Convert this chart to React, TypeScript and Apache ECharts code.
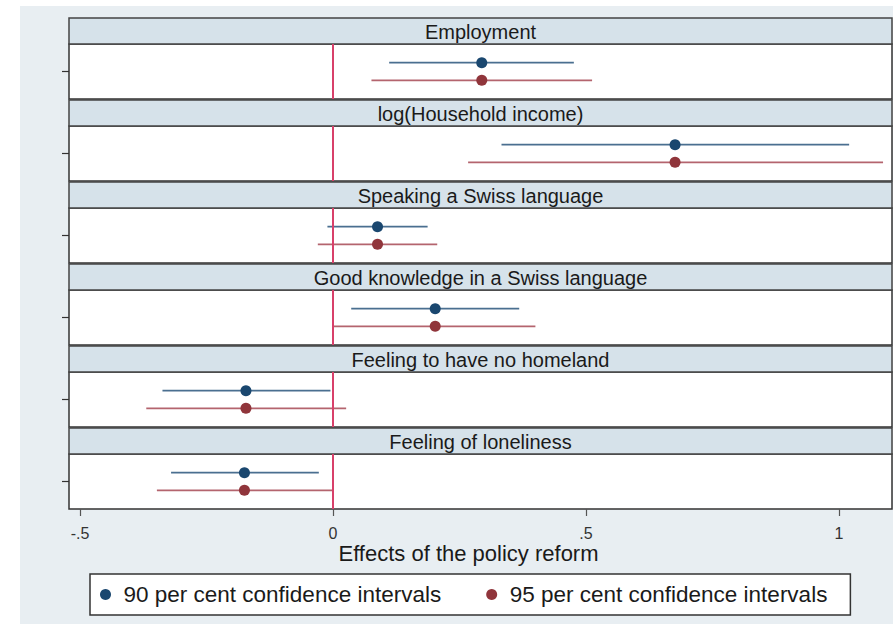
import React, { useEffect, useRef } from "react";
import * as echarts from "echarts";

const outcomes = [
  "Employment",
  "log(Household income)",
  "Speaking a Swiss language",
  "Good knowledge in a Swiss language",
  "Feeling to have no homeland",
  "Feeling of loneliness",
];
const estimates = [0.294, 0.676, 0.088, 0.202, -0.172, -0.175];
const ci90Low = [0.111, 0.333, -0.011, 0.036, -0.337, -0.32];
const ci90High = [0.476, 1.02, 0.187, 0.368, -0.005, -0.028];
const ci95Low = [0.076, 0.267, -0.03, 0.0, -0.369, -0.348];
const ci95High = [0.512, 1.087, 0.206, 0.4, 0.026, 0.0];
const seriesNames = ["90 per cent confidence intervals", "95 per cent confidence intervals"];
const xTickValues = [-0.5, 0, 0.5, 1];
const xTickLabels = ["-.5", "0", ".5", "1"];

const FONT = "'Liberation Sans', Arial, sans-serif";
const BLUE = "#1a476f";
const RED = "#90353b";
const BLUE_LINE = "#4a6f90";
const RED_LINE = "#b4646e";
const ZERO = "#d8406a";
const BLUE_Y = 0.66;
const RED_Y = 0.34;

const PLOT_LEFT = 69;
const PLOT_RIGHT = 892;
const W = 893;
const H = 624;
const PANEL_TOP = 18;
const HEADER_H = 26;
const BODY_H = 55;
const STEP = 82;
const X_MIN = -0.5217;
const X_MAX = 1.1047;

function buildOption() {
  const n = outcomes.length;
  const grids: any[] = [];
  const xAxes: any[] = [];
  const yAxes: any[] = [];
  const series: any[] = [];
  const graphics: any[] = [
    { type: "rect", shape: { x: 0, y: 0, width: 20, height: H }, style: { fill: "#fff" } },
    { type: "rect", shape: { x: 0, y: 0, width: W, height: 6 }, style: { fill: "#fff" } },
  ];

  for (let i = 0; i < n; i++) {
    const headerTop = PANEL_TOP + STEP * i;
    const bodyTop = headerTop + HEADER_H;
    const isLast = i === n - 1;
    grids.push({
      left: PLOT_LEFT,
      width: PLOT_RIGHT - PLOT_LEFT,
      top: bodyTop,
      height: BODY_H,
      show: true,
      backgroundColor: "#ffffff",
      borderColor: "#333333",
      borderWidth: 1.5,
    });
    xAxes.push({
      type: "value",
      gridIndex: i,
      min: X_MIN,
      max: X_MAX,
      axisLine: { show: false, onZero: false },
      splitLine: { show: false },
      axisTick: isLast
        ? { show: true, customValues: xTickValues, length: 7, lineStyle: { color: "#555", width: 1.2 } }
        : { show: false },
      axisLabel: isLast
        ? {
            show: true,
            customValues: xTickValues,
            margin: 16,
            fontSize: 16,
            fontFamily: FONT,
            color: "#333",
            formatter: (v: number) => xTickLabels[xTickValues.indexOf(v)] ?? String(v),
          }
        : { show: false },
      name: isLast ? "Effects of the policy reform" : "",
      nameLocation: "middle",
      nameGap: 33,
      nameTextStyle: { fontSize: 22, fontFamily: FONT, color: "#1a1a1a", padding: [0, 24, 0, 0] },
    });
    yAxes.push({
      type: "value",
      gridIndex: i,
      min: 0,
      max: 1,
      position: "left",
      axisLine: { show: false, onZero: false },
      splitLine: { show: false },
      axisLabel: { show: false },
      axisTick: { show: true, customValues: [0.5], length: 7, lineStyle: { color: "#333", width: 1.2 } },
    });

    series.push({
      type: "custom",
      xAxisIndex: i,
      yAxisIndex: i,
      z: 2,
      silent: true,
      data: [
        [ci90Low[i], ci90High[i], BLUE_Y, 0],
        [ci95Low[i], ci95High[i], RED_Y, 1],
      ],
      renderItem: (params: any, api: any) => {
        const a = api.coord([api.value(0), api.value(2)]);
        const b = api.coord([api.value(1), api.value(2)]);
        return {
          type: "line",
          shape: { x1: a[0], y1: a[1], x2: b[0], y2: b[1] },
          style: { stroke: api.value(3) === 0 ? BLUE_LINE : RED_LINE, lineWidth: 1.8 },
        };
      },
      markLine: {
        silent: true,
        symbol: "none",
        label: { show: false },
        lineStyle: { color: ZERO, width: 2, type: "solid" },
        data: [{ xAxis: 0 }],
      },
    });
    series.push({
      type: "scatter",
      name: seriesNames[0],
      xAxisIndex: i,
      yAxisIndex: i,
      z: 4,
      symbol: "circle",
      symbolSize: 11,
      itemStyle: { color: BLUE, opacity: 1 },
      data: [[estimates[i], BLUE_Y]],
    });
    series.push({
      type: "scatter",
      name: seriesNames[1],
      xAxisIndex: i,
      yAxisIndex: i,
      z: 4,
      symbol: "circle",
      symbolSize: 11,
      itemStyle: { color: RED, opacity: 1 },
      data: [[estimates[i], RED_Y]],
    });

    graphics.push({
      type: "rect",
      shape: { x: PLOT_LEFT, y: headerTop, width: PLOT_RIGHT - PLOT_LEFT, height: HEADER_H },
      style: { fill: "#d6e2ea", stroke: "#444", lineWidth: 1.5 },
    });
    graphics.push({
      type: "text",
      x: (PLOT_LEFT + PLOT_RIGHT) / 2,
      y: headerTop + HEADER_H / 2 + 0.5,
      style: {
        text: outcomes[i],
        fontSize: 20,
        fontFamily: FONT,
        fill: "#1a1a1a",
        align: "center",
        verticalAlign: "middle",
      },
    });
  }

  return {
    animation: false,
    backgroundColor: "#e8eef2",
    grid: grids,
    xAxis: xAxes,
    yAxis: yAxes,
    series,
    graphic: graphics,
    legend: {
      left: 90,
      top: 574,
      orient: "horizontal",
      data: seriesNames,
      icon: "circle",
      itemWidth: 26,
      itemHeight: 11,
      itemGap: 45,
      padding: [9, 23, 9, 10],
      backgroundColor: "#ffffff",
      borderColor: "#333",
      borderWidth: 1.5,
      selectedMode: false,
      itemStyle: { opacity: 1 },
      textStyle: { fontSize: 22.5, fontFamily: FONT, color: "#1a1a1a" },
    },
  };
}

export default function App() {
  const ref = useRef<HTMLDivElement>(null);
  useEffect(() => {
    document.body.style.margin = "0";
    if (!ref.current) return;
    const chart = echarts.init(ref.current, undefined, { renderer: "svg" });
    chart.setOption(buildOption() as any);
    return () => chart.dispose();
  }, []);
  return <div ref={ref} style={{ width: W, height: H }} />;
}
